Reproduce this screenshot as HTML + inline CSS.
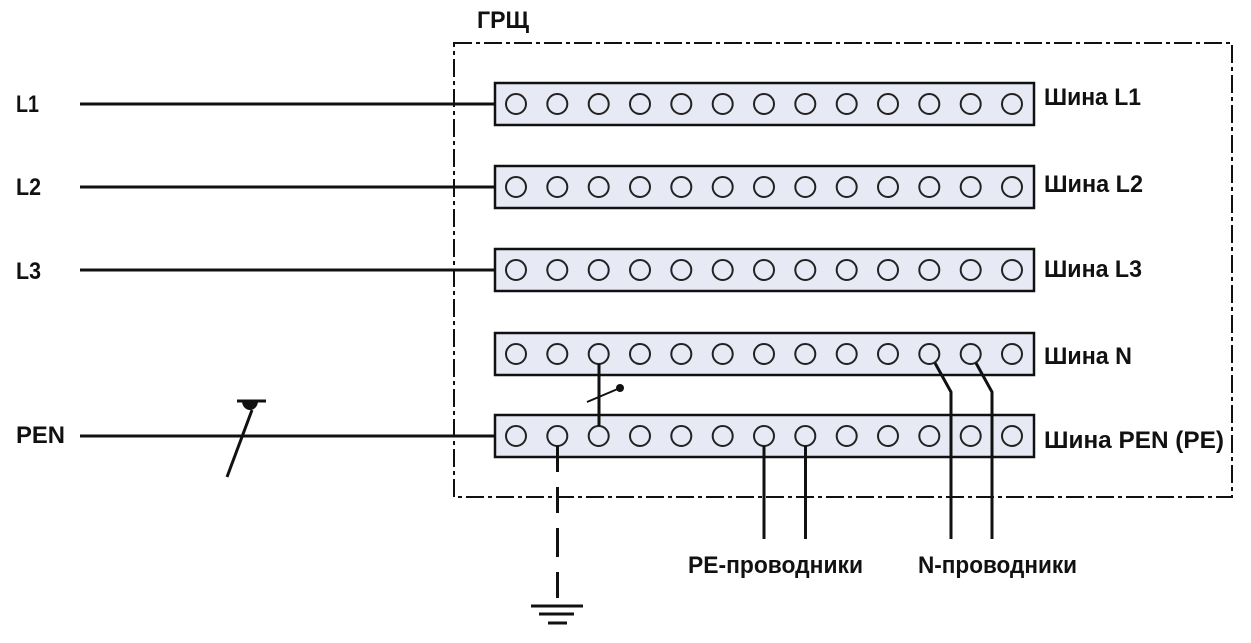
<!DOCTYPE html>
<html>
<head>
<meta charset="utf-8">
<style>
  html,body{margin:0;padding:0;background:#fff;}
  svg{display:block;}
  text{font-family:"Liberation Sans","DejaVu Sans",sans-serif;font-weight:bold;font-size:24px;fill:#111;}
</style>
</head>
<body>
<svg width="1251" height="643" viewBox="0 0 1251 643" xmlns="http://www.w3.org/2000/svg">
  <!-- Frame (dash-dot) -->
  <rect x="454" y="43" width="778" height="454" fill="none" stroke="#111" stroke-width="2" stroke-dasharray="18 4 4 4"/>
  <text x="477" y="28" textLength="52" lengthAdjust="spacingAndGlyphs">ГРЩ</text>

  <!-- Input labels -->
  <text x="16" y="112" textLength="23" lengthAdjust="spacingAndGlyphs">L1</text>
  <text x="16" y="195" textLength="25" lengthAdjust="spacingAndGlyphs">L2</text>
  <text x="16" y="279" textLength="25" lengthAdjust="spacingAndGlyphs">L3</text>
  <text x="16" y="443" textLength="49" lengthAdjust="spacingAndGlyphs">PEN</text>

  <!-- Input lines -->
  <g stroke="#111" stroke-width="3">
    <line x1="80" y1="104" x2="506" y2="104"/>
    <line x1="80" y1="187" x2="506" y2="187"/>
    <line x1="80" y1="270" x2="506" y2="270"/>
    <line x1="80" y1="436" x2="506" y2="436"/>
  </g>

  <!-- Bars -->
  <g fill="#e7eaf4" stroke="#111" stroke-width="2.5">
    <rect x="495" y="83" width="539" height="42"/>
    <rect x="495" y="166" width="539" height="42"/>
    <rect x="495" y="249" width="539" height="42"/>
    <rect x="495" y="333" width="539" height="42"/>
    <rect x="495" y="415" width="539" height="42"/>
  </g>

  <!-- Circles -->
  <g fill="none" stroke="#222" stroke-width="2">
    <g id="row1">
      <circle cx="516" cy="104" r="10"/><circle cx="557.3" cy="104" r="10"/><circle cx="598.7" cy="104" r="10"/><circle cx="640" cy="104" r="10"/><circle cx="681.3" cy="104" r="10"/><circle cx="722.7" cy="104" r="10"/><circle cx="764" cy="104" r="10"/><circle cx="805.3" cy="104" r="10"/><circle cx="846.7" cy="104" r="10"/><circle cx="888" cy="104" r="10"/><circle cx="929.3" cy="104" r="10"/><circle cx="970.7" cy="104" r="10"/><circle cx="1012" cy="104" r="10"/>
    </g>
    <use href="#row1" y="83"/>
    <use href="#row1" y="166"/>
    <use href="#row1" y="250"/>
    <use href="#row1" y="332"/>
  </g>

  <!-- Bar labels -->
  <text x="1044" y="105" textLength="97" lengthAdjust="spacingAndGlyphs">Шина L1</text>
  <text x="1044" y="192" textLength="99" lengthAdjust="spacingAndGlyphs">Шина L2</text>
  <text x="1044" y="277" textLength="98" lengthAdjust="spacingAndGlyphs">Шина L3</text>
  <text x="1044" y="364" textLength="88" lengthAdjust="spacingAndGlyphs">Шина N</text>
  <text x="1044" y="448" textLength="180" lengthAdjust="spacingAndGlyphs">Шина PEN (PE)</text>

  <!-- N-PEN link with switch -->
  <line x1="599" y1="364" x2="599" y2="426" stroke="#111" stroke-width="3"/>
  <line x1="587" y1="402" x2="620" y2="388" stroke="#111" stroke-width="2"/>
  <circle cx="620" cy="388" r="4" fill="#111"/>

  <!-- PEN input switch -->
  <line x1="227" y1="477" x2="252" y2="410" stroke="#111" stroke-width="3"/>
  <line x1="237" y1="401" x2="266" y2="401" stroke="#111" stroke-width="3"/>
  <path d="M242 401 A8 9 0 0 0 258 401 Z" fill="#111"/>

  <!-- Ground wire -->
  <g stroke="#111" stroke-width="3">
    <line x1="557.5" y1="446" x2="557.5" y2="472"/>
    <line x1="557.5" y1="487" x2="557.5" y2="513"/>
    <line x1="557.5" y1="528" x2="557.5" y2="557"/>
    <line x1="557.5" y1="572" x2="557.5" y2="598"/>
    <line x1="531" y1="606" x2="583" y2="606"/>
    <line x1="539" y1="614" x2="574" y2="614"/>
    <line x1="548" y1="623" x2="567" y2="623"/>
  </g>

  <!-- PE conductors -->
  <g stroke="#111" stroke-width="3" fill="none">
    <line x1="764" y1="446" x2="764" y2="539"/>
    <line x1="805.5" y1="446" x2="805.5" y2="539"/>
    <!-- N conductors -->
    <polyline points="935,363 951,392 951,539"/>
    <polyline points="976,363 992,392 992,539"/>
  </g>

  <!-- Bottom labels -->
  <text x="688" y="573" textLength="175" lengthAdjust="spacingAndGlyphs">PE-проводники</text>
  <text x="918" y="573" textLength="159" lengthAdjust="spacingAndGlyphs">N-проводники</text>
</svg>
</body>
</html>
